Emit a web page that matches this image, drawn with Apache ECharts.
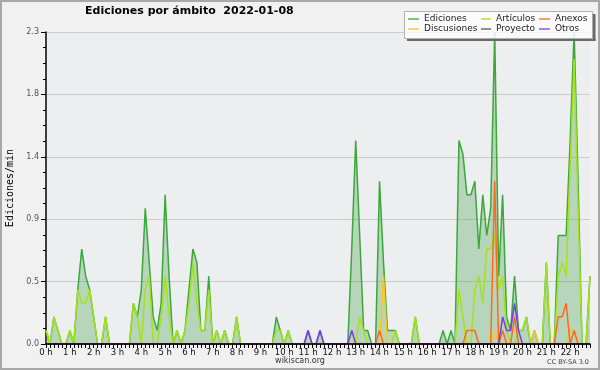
<!DOCTYPE html>
<html>
<head>
<meta charset="utf-8">
<script src="https://cdn.jsdelivr.net/npm/echarts@6/dist/echarts.min.js"></script>
<style>
html,body{margin:0;padding:0;background:#f1f1f1;}
#c{width:600px;height:370px;}
</style>
</head>
<body>
<div id="c"></div>
<script>
// Hour tick labels (one every 6 points, points every 10 minutes)
const hourLabels = ['0 h','1 h','2 h','3 h','4 h','5 h','6 h','7 h','8 h','9 h','10 h','11 h',
  '12 h','13 h','14 h','15 h','16 h','17 h','18 h','19 h','20 h','21 h','22 h'];

// Ediciones/min, one value per 10 minutes
const ediciones = [
  0.1,0,0.2,0.1,0,0,0.1,0,0.4,0.7,
  0.5,0.4,0.2,0,0,0.2,0,0,0,0,
  0,0,0.3,0.2,0.4,1.0,0.6,0.2,0.1,0.3,
  1.1,0.5,0,0.1,0,0.1,0.4,0.7,0.6,0.1,
  0.1,0.5,0,0.1,0,0.1,0,0,0.2,0,
  0,0,0,0,0,0,0,0,0.2,0.1,
  0,0.1,0,0,0,0,0.1,0,0,0.1,
  0,0,0,0,0,0,0,0.7,1.5,0.8,
  0.1,0.1,0,0,1.2,0.6,0.1,0.1,0.1,0,
  0,0,0,0.2,0,0,0,0,0,0,
  0.1,0,0.1,0,1.5,1.4,1.1,1.1,1.2,0.7,
  1.1,0.8,1.0,2.3,0.5,1.1,0.2,0.1,0.5,0.1,
  0.1,0.2,0,0.1,0,0,0.6,0,0,0.8,
  0.8,0.8,1.5,2.3,1.2,0,0,0.5
];
const articulos = [
  0.1,0,0.2,0.1,0,0,0.1,0,0.4,0.3,
  0.3,0.4,0.2,0,0,0.2,0,0,0,0,
  0,0,0.3,0.2,0,0.4,0.5,0,0,0.2,
  0.5,0.2,0,0.1,0,0.1,0.3,0.6,0.3,0.1,
  0.1,0.4,0,0.1,0,0.1,0,0,0.2,0,
  0,0,0,0,0,0,0,0,0.1,0.1,
  0,0.1,0,0,0,0,0,0,0,0,
  0,0,0,0,0,0,0,0,0,0.2,
  0.1,0,0,0,0,0,0,0,0.1,0,
  0,0,0,0.2,0,0,0,0,0,0,
  0,0,0,0,0.4,0.2,0,0,0.4,0.5,
  0.3,0.7,0.7,0.8,0.4,0.5,0.1,0,0,0.1,
  0.1,0.2,0,0,0,0,0.6,0,0,0.5,
  0.6,0.5,1.3,2.1,1.0,0,0,0.5
];
const anexos = [
  0,0,0,0,0,0,0,0,0,0,
  0,0,0,0,0,0,0,0,0,0,
  0,0,0,0,0,0,0,0,0,0,
  0,0,0,0,0,0,0,0,0,0,
  0,0,0,0,0,0,0,0,0,0,
  0,0,0,0,0,0,0,0,0,0,
  0,0,0,0,0,0,0,0,0,0,
  0,0,0,0,0,0,0,0,0,0,
  0,0,0,0,0.1,0,0,0,0,0,
  0,0,0,0,0,0,0,0,0,0,
  0,0,0,0,0,0,0.1,0.1,0.1,0,
  0,0,0,1.2,0,0.1,0,0,0.2,0,
  0,0,0,0,0,0,0,0,0,0.2,
  0.2,0.3,0,0.1,0,0,0,0
];
const discusiones = [
  0,0,0,0,0,0,0,0,0,0,
  0,0,0,0,0,0,0,0,0,0,
  0,0,0,0,0,0,0,0,0,0,
  0,0,0,0,0,0,0,0,0,0,
  0,0,0,0,0,0,0,0,0,0,
  0,0,0,0,0,0,0,0,0,0,
  0,0,0,0,0,0,0,0,0,0,
  0,0,0,0,0,0,0,0,0,0,
  0,0,0,0,0,0.5,0,0,0,0,
  0,0,0,0,0,0,0,0,0,0,
  0,0,0,0,0,0,0,0,0,0,
  0,0,0,0.1,0,0,0,0,0,0,
  0,0,0,0.1,0,0,0,0,0,0,
  0,0,0.1,0.1,0,0,0,0
];
const proyecto = [
  0,0,0,0,0,0,0,0,0,0,
  0,0,0,0,0,0,0,0,0,0,
  0,0,0,0,0,0,0,0,0,0,
  0,0,0,0,0,0,0,0,0,0,
  0,0,0,0,0,0,0,0,0,0,
  0,0,0,0,0,0,0,0,0,0,
  0,0,0,0,0,0,0,0,0,0,
  0,0,0,0,0,0,0,0,0,0,
  0,0,0,0,0,0,0,0,0,0,
  0,0,0,0,0,0,0,0,0,0,
  0,0,0,0,0,0,0,0,0,0,
  0,0,0,0,0,0,0,0,0,0,
  0,0,0,0,0,0,0,0,0,0,
  0,0,0,0,0,0,0,0
];
const otros = [
  0,0,0,0,0,0,0,0,0,0,
  0,0,0,0,0,0,0,0,0,0,
  0,0,0,0,0,0,0,0,0,0,
  0,0,0,0,0,0,0,0,0,0,
  0,0,0,0,0,0,0,0,0,0,
  0,0,0,0,0,0,0,0,0,0,
  0,0,0,0,0,0,0.1,0,0,0.1,
  0,0,0,0,0,0,0,0.1,0,0,
  0,0,0,0,0,0,0,0,0,0,
  0,0,0,0,0,0,0,0,0,0,
  0,0,0,0,0,0,0,0,0,0,
  0,0,0,0,0,0.2,0.1,0.1,0.3,0.1,
  0,0,0,0,0,0,0,0,0,0,
  0,0,0,0,0,0,0,0
];

const categories = ediciones.map((_, i) => (i % 6 === 0 && hourLabels[i / 6]) ? hourLabels[i / 6] : '');

const colors = {
  Ediciones: '#3aa83a',
  'Artículos': '#a4e21a',
  Anexos: '#ff6a1a',
  Discusiones: '#ffc61a',
  Proyecto: '#555555',
  Otros: '#7a3cf0'
};

function lineSeries(name, data, z, extra) {
  return Object.assign({
    name: name, type: 'line', data: data, symbol: 'none', showSymbol: false,
    color: colors[name], z: z,
    lineStyle: {width: 1.5, color: colors[name]},
    emphasis: {disabled: true}, silent: true
  }, extra || {});
}

const legendCommon = {
  orient: 'vertical', top: 14, padding: 0, itemGap: 0,
  icon: 'rect', itemWidth: 11, itemHeight: 2, z: 120, selectedMode: false,
  itemStyle: {opacity: 0.65},
  textStyle: {fontFamily: 'DejaVu Sans', fontSize: 9, color: '#222', lineHeight: 10, padding: [0,0,0,0]}
};

const chart = echarts.init(document.getElementById('c'), null, {renderer: 'canvas'});
chart.setOption({
  animation: false,
  backgroundColor: '#f1f1f1',
  title: {
    text: 'Ediciones por ámbito  2022-01-08',
    left: 85, top: 6, padding: 0,
    textStyle: {fontFamily: 'DejaVu Sans', fontWeight: 'bold', fontSize: 11, color: '#000'}
  },
  legend: [
    Object.assign({}, legendCommon, {left: 408, data: ['Ediciones', 'Discusiones']}),
    Object.assign({}, legendCommon, {left: 481, itemWidth: 10, data: ['Artículos', 'Proyecto']}),
    Object.assign({}, legendCommon, {left: 539, data: ['Anexos', 'Otros']})
  ],
  grid: {left: 46, right: 10, top: 32, bottom: 26, show: true, backgroundColor: '#eceef0', borderWidth: 0,
    containLabel: false, outerBoundsMode: 'none'},
  xAxis: {
    type: 'category', data: categories, boundaryGap: false, z: 5,
    axisLine: {lineStyle: {color: '#000', width: 1.5}},
    axisTick: {show: true, interval: 0, length: 4, lineStyle: {color: '#000'}},
    axisLabel: {interval: 5, margin: 4, fontFamily: 'DejaVu Sans', fontSize: 8.5, color: '#111'},
    splitLine: {show: false}
  },
  yAxis: {
    type: 'value', min: 0, max: 2.3, interval: 0.46,
    name: 'Ediciones/min', nameLocation: 'middle', nameRotate: 90, nameGap: 31,
    nameTextStyle: {fontFamily: 'DejaVu Sans Mono', fontSize: 10, color: '#000'},
    axisLine: {show: true, lineStyle: {color: '#000', width: 1.5}},
    axisTick: {show: true, length: 5, lineStyle: {color: '#000'}},
    minorTick: {show: true, splitNumber: 4, length: 3, lineStyle: {color: '#000'}},
    axisLabel: {margin: 7, fontFamily: 'DejaVu Sans', fontSize: 8, color: '#555',
      formatter: v => v.toFixed(1)},
    splitLine: {show: true, lineStyle: {color: '#cccccc', width: 1}}
  },
  series: [
    lineSeries('Ediciones', ediciones, 2, {areaStyle: {color: 'rgba(70,160,70,0.45)', origin: 'start'}}),
    lineSeries('Artículos', articulos, 3),
    lineSeries('Proyecto', proyecto, 3),
    lineSeries('Discusiones', discusiones, 4),
    lineSeries('Anexos', anexos, 4),
    lineSeries('Otros', otros, 4)
  ],
  graphic: [
    {type: 'rect', z: 100, silent: true, shape: {x: 1, y: 1, width: 598, height: 368},
      style: {fill: 'none', stroke: '#a8a8a8', lineWidth: 2}},
    {type: 'rect', z: 99, silent: true, shape: {x: 593, y: 14, width: 2.5, height: 27},
      style: {fill: '#6a6a6a'}},
    {type: 'rect', z: 99, silent: true, shape: {x: 407, y: 38.5, width: 188.5, height: 2.5},
      style: {fill: '#6a6a6a'}},
    {type: 'rect', z: 100, silent: true, shape: {x: 404.5, y: 11.5, width: 188, height: 27},
      style: {fill: 'rgba(252,252,252,0.82)', stroke: '#b0b0b0', lineWidth: 1}},
    {type: 'text', z: 100, silent: true, x: 300, y: 361,
      style: {text: 'wikiscan.org', fontFamily: 'DejaVu Sans', fontSize: 8, fill: '#333',
        textAlign: 'center', textVerticalAlign: 'middle'}},
    {type: 'text', z: 100, silent: true, x: 589, y: 362,
      style: {text: 'CC BY-SA 3.0', fontFamily: 'DejaVu Sans', fontSize: 6.5, fill: '#444',
        textAlign: 'right', textVerticalAlign: 'middle'}}
  ]
});
</script>
</body>
</html>
